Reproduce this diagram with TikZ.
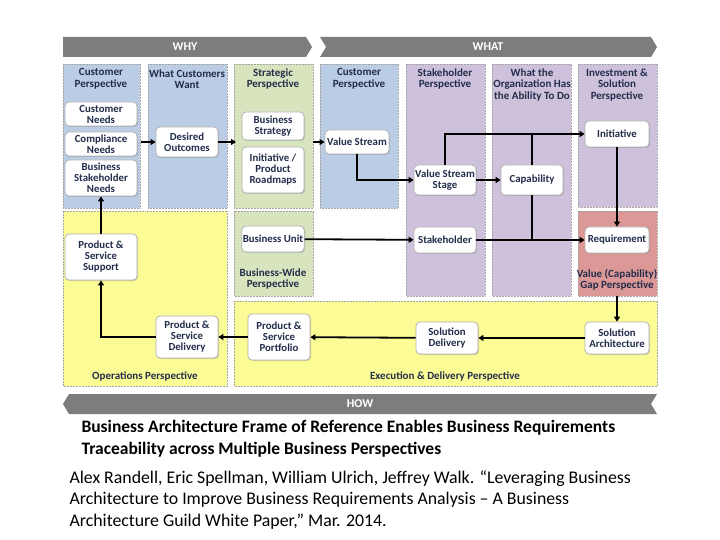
\documentclass[tikz,border=0pt]{standalone}
\usepackage{fontspec}
\setmainfont{Carlito}
\usetikzlibrary{arrows.meta,shadows}
\definecolor{cblue}{RGB}{186,205,228}
\definecolor{cgreen}{RGB}{216,228,190}
\definecolor{cpurple}{RGB}{205,193,219}
\definecolor{cred}{RGB}{219,152,150}
\definecolor{cyel}{RGB}{252,252,150}
\definecolor{cgray}{RGB}{125,125,125}
\definecolor{ctxt}{RGB}{35,45,75}
\tikzset{
 panel/.style={draw=gray!70,densely dotted,line width=0.5pt},
 hdr/.style={font=\bfseries\fontsize{11}{11.5}\selectfont,text=ctxt,align=center},
 box/.style={draw=gray!60,fill=white,rounded corners=4pt,line width=0.8pt,align=center,font=\bfseries\fontsize{10.8}{11}\selectfont,text=ctxt,inner sep=1pt,drop shadow={shadow xshift=1pt,shadow yshift=-1pt,opacity=0.35}},
 arr/.style={line width=1.8pt,-{Triangle[length=5pt,width=6pt]}},
 ln/.style={line width=1.8pt},
 banner/.style={fill=cgray},
 btxt/.style={text=white,font=\bfseries\fontsize{12}{13}\selectfont}
}
\begin{document}
\begin{tikzpicture}[x=1pt,y=-1pt]
\useasboundingbox (0,0) rectangle (720,540);
% banners
\fill[banner] (63,37) -- (306,37) -- (312,47) -- (306,57) -- (63,57) -- cycle;
\node[btxt] (why) at (185,47) {WHY};
\fill[banner] (320,37) -- (651,37) -- (657,47) -- (651,57) -- (320,57) -- (326,47) -- cycle;
\node[btxt] (what) at (488,47) {WHAT};
\fill[banner] (63,404) -- (69,394) -- (657,394) -- (651,404) -- (657,414) -- (69,414) -- cycle;
\node[btxt] (how) at (360,404) {HOW};
% panels
\draw[panel,fill=cblue] (63,64) rectangle (140,208);
\draw[panel,fill=cblue] (148,64) rectangle (227,208);
\draw[panel,fill=cgreen] (234,64) rectangle (313,208);
\draw[panel,fill=cblue] (320,64) rectangle (398,208);
\draw[panel,fill=cpurple] (406,64) rectangle (485,296);
\draw[panel,fill=cpurple] (492,64) rectangle (571,296);
\draw[panel,fill=cpurple] (578,64) rectangle (657,207);
\draw[panel,fill=cred] (578,211) rectangle (657,296);
\draw[panel,fill=cyel] (63,211) rectangle (227,386);
\draw[panel,fill=cgreen] (234,211) rectangle (313,296);
\draw[panel,fill=cyel] (234,301) rectangle (657,386);
% headers
\node[hdr] (h1) at (101,79) {Customer\\Perspective};
\node[hdr] (h2) at (187,79) {What Customers\\Want};
\node[hdr] (h3) at (273,79) {Strategic\\Perspective};
\node[hdr] (h4) at (359,79) {Customer\\Perspective};
\node[hdr] (h5) at (445,79) {Stakeholder\\Perspective};
\node[hdr] (h6) at (532,85) {What the\\Organization Has\\the Ability To Do};
\node[hdr] (h7) at (617,85) {Investment \&\\Solution\\Perspective};
\node[hdr] (h8) at (273,279) {Business-Wide\\Perspective};
\node[hdr] (h9) at (617,280) {Value (Capability)\\Gap Perspective};
\node[hdr] (h10) at (145,376) {Operations Perspective};
\node[hdr] (h11) at (445,376) {Execution \& Delivery Perspective};
% nodes
\node[box,minimum width=72,minimum height=24] (cn) at (101,114) {Customer\\Needs};
\node[box,minimum width=72,minimum height=24] (cpn) at (101,144) {Compliance\\Needs};
\node[box,minimum width=72,minimum height=36] (bsn) at (101,178) {Business\\Stakeholder\\Needs};
\node[box,minimum width=62,minimum height=30] (do) at (187,142) {Desired\\Outcomes};
\node[box,minimum width=62,minimum height=28] (bs) at (273,126) {Business\\Strategy};
\node[box,minimum width=62,minimum height=46] (ipr) at (273,170) {Initiative /\\Product\\Roadmaps};
\node[box,minimum width=64,minimum height=24] (vs) at (357,142) {Value Stream};
\node[box,minimum width=62,minimum height=30] (vss) at (445,180) {Value Stream\\Stage};
\node[box,minimum width=62,minimum height=30] (cap) at (532,180) {Capability};
\node[box,minimum width=64,minimum height=26] (ini) at (617,134) {Initiative};
\node[box,minimum width=62,minimum height=26] (bu) at (273,239) {Business Unit};
\node[box,minimum width=62,minimum height=26] (sh) at (445,240) {Stakeholder};
\node[box,minimum width=64,minimum height=26] (req) at (617,240) {Requirement};
\node[box,minimum width=72,minimum height=46] (pss) at (101,257) {Product \&\\Service\\Support};
\node[box,minimum width=62,minimum height=42] (psd) at (187,337) {Product \&\\Service\\Delivery};
\node[box,minimum width=62,minimum height=46] (psp) at (279,337) {Product \&\\Service\\Portfolio};
\node[box,minimum width=62,minimum height=32] (sd) at (447,338) {Solution\\Delivery};
\node[box,minimum width=64,minimum height=32] (sa) at (617,338) {Solution\\Architecture};
% coordinates
\coordinate (c1) at (141,142);
\coordinate (c2) at (236,142);
\coordinate (c3) at (313,142);
\coordinate (j1) at (532,134);
\coordinate (j2) at (532,240);
\coordinate (rb) at (617,296);
% connectors
\draw[arr] (c1) -- (do);
\draw[arr] (do) -- (c2);
\draw[arr] (c3) -- (vs);
\draw[arr] (vs.south) |- (vss);
\draw[arr] (vss) -- (cap);
\draw[arr] (vss.north) |- (ini);
\draw[ln] (cap.north) -- (j1);
\draw[ln] (cap.south) -- (j2);
\draw[arr] (ini) -- (req);
\draw[arr] (bu) -- (sh);
\draw[arr] (sh) -- (req);
\draw[arr] (rb) -- (sa);
\draw[arr] (sa) -- (sd);
\draw[arr] (sd) -- (psp);
\draw[arr] (psp) -- (psd);
\draw[arr] (psd.west) -| (pss.south);
\draw[arr] (pss) -- (bsn);
% captions
\node[anchor=west,align=left,font=\bfseries\fontsize{17.5}{22}\selectfont] (cap1) at (78,439) {Business Architecture Frame of Reference Enables Business Requirements\\Traceability across Multiple Business Perspectives};
\node[anchor=west,align=left,font=\fontsize{17.8}{21.5}\selectfont] (cap2) at (66,500) {Alex Randell, Eric Spellman, William Ulrich, Jeffrey Walk. “Leveraging Business\\Architecture to Improve Business Requirements Analysis – A Business\\Architecture Guild White Paper,” Mar. 2014.};
\end{tikzpicture}
\end{document}
